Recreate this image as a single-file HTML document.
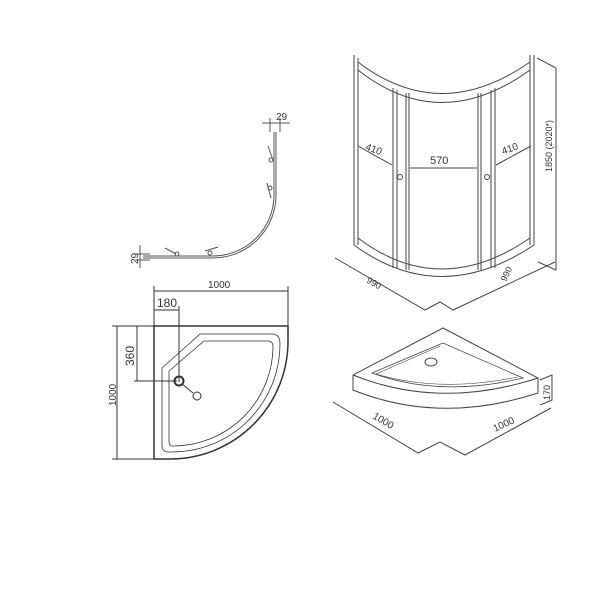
<!DOCTYPE html>
<html><head><style>html,body{margin:0;padding:0;background:#fff}svg{display:block}text{font-family:"Liberation Sans",sans-serif;fill:#333;stroke:none}</style></head>
<body>
<svg width="600" height="600" viewBox="0 0 600 600" xmlns="http://www.w3.org/2000/svg" fill="none" stroke="#333" stroke-width="1">
<!-- curve profile -->
<g stroke="#555">
<path d="M275,132 V195 A62,62 0 0 1 213,257 H143" stroke-width="3"/>
<path d="M275,132 V195 A62,62 0 0 1 213,257 H143" stroke="#fff" stroke-width="1"/>
<line x1="262" y1="123" x2="290" y2="123"/><line x1="270" y1="118" x2="270" y2="132"/><line x1="280" y1="118" x2="280" y2="132"/>
<line x1="140" y1="245" x2="140" y2="268"/><line x1="136" y1="254" x2="150" y2="254"/><line x1="136" y1="260" x2="150" y2="260"/>
<path d="M268,146 L273,160 M267,183 L271,198 M165,248 L176,254 M205,251 L218,247"/>
<circle cx="271" cy="160" r="2"/><circle cx="270" cy="188" r="2"/><circle cx="177" cy="254" r="2"/><circle cx="210" cy="253" r="2"/>
</g>
<text x="276" y="120" font-size="10">29</text>
<text x="0" y="0" font-size="10" transform="translate(138,264) rotate(-90)">29</text>

<!-- shower cabin -->
<g stroke="#444">
<path d="M354,55 V245 M358,58 V245 M530,55 V245 M534,55 V245"/>
<path d="M358,62 Q440,125 530,62"/><path d="M358,70 Q440,135 530,70"/>
<path d="M358,238 Q440,300 530,238"/><path d="M354,245 Q440,308 534,245"/>
<path d="M393,88 V268 M397,90 V268 M406,93 V270 M409,93 V270"/>
<path d="M478,93 V270 M481,93 V270 M491,90 V268 M495,88 V268"/>
<circle cx="400" cy="177" r="2.5"/><circle cx="487" cy="177" r="2.5"/>
<path d="M358,146 L392,165 M410,168 H477 M496,165 L531,146"/>
<path d="M537,58 L556,68 V270 L538,262"/>
<path d="M335,258 L425,310 L440,302 L453,310 L555,262"/>
</g>
<text x="365" y="152" font-size="10" transform="rotate(20 372 150)">410</text>
<text x="430" y="164" font-size="11">570</text>
<text x="502" y="152" font-size="10" transform="rotate(-20 510 150)">410</text>
<text x="0" y="0" font-size="9" transform="translate(552,172) rotate(-90)">1850 (2020*)</text>
<text x="0" y="0" font-size="9" transform="translate(366,282) rotate(30)">990</text>
<text x="0" y="0" font-size="9" transform="translate(506,282) rotate(-65)">990</text>

<!-- tray plan -->
<g stroke="#333">
<path d="M154,326 H288 V340 A118,118 0 0 1 170,459 H154 Z" stroke-width="1.5"/>
<path d="M200,334 H272 Q280,334 280,344 A108,108 0 0 1 172,452 H168 Q162,452 162,445 V368 Z" stroke-width="0.8"/>
<path d="M204,341 H268 Q273,341 273,347 A100,100 0 0 1 174,446 H172 Q169,446 169,441 V371 Z" stroke-width="0.8"/>
<circle cx="179" cy="381" r="4.5" stroke-width="2"/>
<path d="M182,384 L193,393"/><circle cx="197" cy="396" r="4"/>
<path d="M154,291 H288 M154,286 V326 M288,286 V326 M154,310 H179 M179,306 V382"/>
<path d="M137,326 V381 M117,326 V459 M112,326 H154 M112,459 H154 M134,381 H177"/>
</g>
<text x="208" y="288" font-size="10">1000</text>
<text x="157" y="307" font-size="12">180</text>
<text x="0" y="0" font-size="12" transform="translate(134,366) rotate(-90)">360</text>
<text x="0" y="0" font-size="10" transform="translate(116,406) rotate(-90)">1000</text>

<!-- iso tray -->
<g stroke="#444">
<path d="M443,328 L353,375 V390 Q440,425 538,393 V378 Z"/>
<path d="M353,375 Q440,410 538,378"/>
<path d="M443,343 L372,373 Q440,398 523,378 Z" stroke-width="0.8"/>
<path d="M440,346 L376,374 Q440,393 518,377" stroke-width="0.6"/>
<ellipse cx="431" cy="362" rx="6" ry="4"/>
<path d="M540,380 L552,375 V400 L540,405"/>
<path d="M333,402 L418,453 L440,442 L465,455 L551,408"/>
</g>
<text x="0" y="0" font-size="10" transform="translate(372,418) rotate(30)">1000</text>
<text x="0" y="0" font-size="10" transform="translate(495,432) rotate(-25)">1000</text>
<text x="0" y="0" font-size="9" transform="translate(550,400) rotate(-90)">170</text>
</svg>
</body></html>
